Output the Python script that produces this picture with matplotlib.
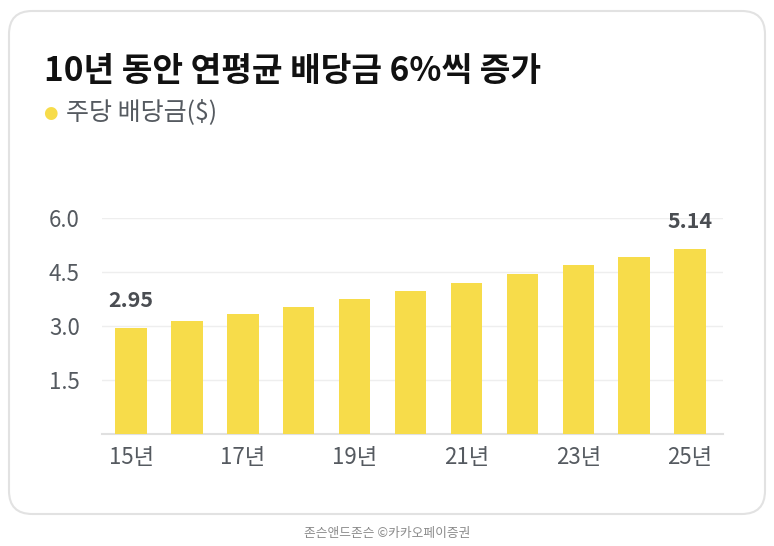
import matplotlib.pyplot as plt
from matplotlib.patches import FancyBboxPatch

plt.rcParams['font.family'] = ['Noto Sans CJK KR', 'DejaVu Sans']

# data
years = ['15년', '16년', '17년', '18년', '19년', '20년', '21년', '22년', '23년', '24년', '25년']
dividends = [2.95, 3.15, 3.32, 3.54, 3.75, 3.98, 4.19, 4.45, 4.70, 4.91, 5.14]
yticks = [1.5, 3.0, 4.5, 6.0]
title = '10년 동안 연평균 배당금 6%씩 증가'
legend_label = '주당 배당금($)'
source = '존슨앤드존슨 ©카카오페이증권'

bar_color = '#F7DC4A'

fig = plt.figure(figsize=(7.74, 5.46), dpi=100)
fig.patch.set_facecolor('white')

# card background
card = FancyBboxPatch((9 / 774, 1 - 514 / 546), 756 / 774, 503 / 546,
                      boxstyle='round,pad=0,rounding_size=0.03',
                      transform=fig.transFigure, facecolor='white',
                      edgecolor='#e2e2e2', linewidth=1.5, mutation_aspect=774 / 546,
                      zorder=-5)
fig.patches.append(card)

ax = fig.add_axes([102 / 774, 1 - 434 / 546, 621 / 774, 216 / 546])
ax.set_facecolor('none')
x = list(range(len(years)))
ax.bar(x, dividends, width=0.56, color=bar_color, zorder=3)
ax.set_xlim(-0.52, 10.59)
ax.set_ylim(0, 6.0)

ax.set_yticks(yticks)
ax.set_yticklabels([f'{v:.1f}' for v in yticks])
ax.set_xticks(x[::2])
ax.set_xticklabels(years[::2])
ax.tick_params(axis='both', length=0, labelsize=16, labelcolor='#555a60')
ax.tick_params(axis='y', pad=16)
ax.tick_params(axis='x', pad=9)
ax.grid(axis='y', color='#eeeeee', linewidth=1, zorder=0)
for s in ['top', 'right', 'left']:
    ax.spines[s].set_visible(False)
ax.spines['bottom'].set_color('#e0e0e0')
ax.spines['bottom'].set_linewidth(1.5)

# first and last value labels
for i in [0, len(dividends) - 1]:
    ax.annotate(f'{dividends[i]:.2f}', (x[i], dividends[i]), xytext=(0, 12),
                textcoords='offset points', ha='center', va='bottom',
                fontsize=15.5, fontweight='bold', color='#4a4d52', zorder=4)

fig.text(44 / 774, 1 - 81 / 546, title, fontsize=24, fontweight='bold',
         color='#111111', va='baseline')
fig.text(50 / 774, 1 - 113 / 546, '●', fontsize=12, color=bar_color,
         ha='center', va='center', family=['DejaVu Sans'])
fig.text(66 / 774, 1 - 112 / 546, legend_label, fontsize=18, color='#555a60',
         va='center')
fig.text(387 / 774, 1 - 533 / 546, source, fontsize=9.2, color='#8a8a8a',
         ha='center', va='center')

fig.savefig('out.png', dpi=100, facecolor='white')
